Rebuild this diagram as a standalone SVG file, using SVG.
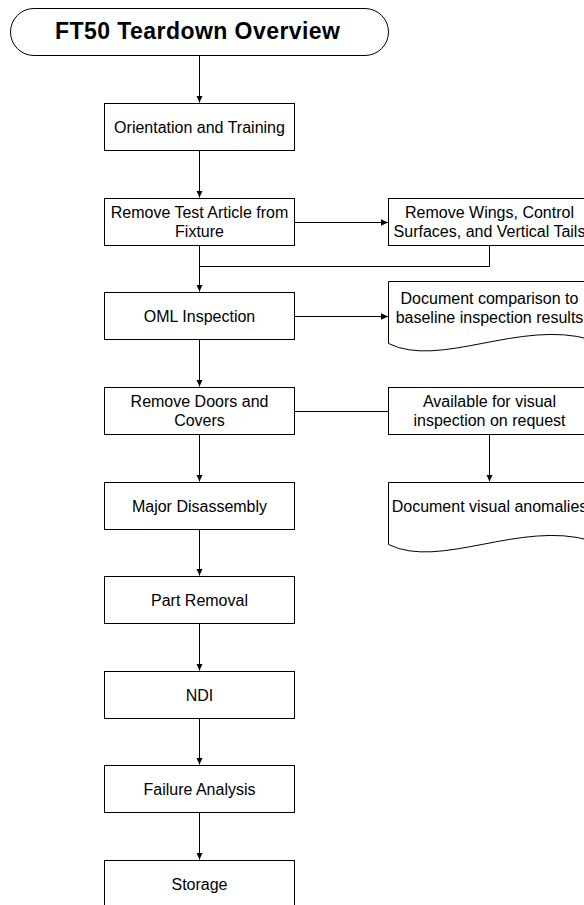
<svg xmlns="http://www.w3.org/2000/svg" width="584" height="905" viewBox="0 0 584 905">
<style>
.box{fill:#fff;stroke:#000;stroke-width:1}
.t{font-family:"Liberation Sans",Arial,sans-serif;font-size:16px;fill:#000;text-anchor:middle}
.title{font-family:"Liberation Sans",Arial,sans-serif;font-size:23px;font-weight:bold;fill:#000}
.c{fill:none;stroke:#000;stroke-width:1}
</style>
<defs>
<marker id="ah" markerWidth="8" markerHeight="8" refX="7" refY="4" orient="auto" markerUnits="userSpaceOnUse">
<path d="M0,0.8 L7,4 L0,7.2 Z" fill="#000"/>
</marker>
</defs>
<rect width="584" height="905" fill="#fff"/>
<g id="connectors">
<path class="c" d="M199.5,55.5 V102.5" marker-end="url(#ah)"/>
<path class="c" d="M199.5,150.5 V197.5" marker-end="url(#ah)"/>
<path class="c" d="M199.5,245.5 V291.5" marker-end="url(#ah)"/>
<path class="c" d="M489.5,245.5 V266.5 H199.5"/>
<path class="c" d="M294.5,222.5 H388" marker-end="url(#ah)"/>
<path class="c" d="M294.5,316.5 H388" marker-end="url(#ah)"/>
<path class="c" d="M199.5,339.5 V386.5" marker-end="url(#ah)"/>
<path class="c" d="M294.5,411.5 H388.5"/>
<path class="c" d="M199.5,434.5 V481.5" marker-end="url(#ah)"/>
<path class="c" d="M489.5,434.5 V481.5" marker-end="url(#ah)"/>
<path class="c" d="M199.5,528.5 V575.5" marker-end="url(#ah)"/>
<path class="c" d="M199.5,623.5 V670.5" marker-end="url(#ah)"/>
<path class="c" d="M199.5,718.5 V764.5" marker-end="url(#ah)"/>
<path class="c" d="M199.5,812.5 V859.5" marker-end="url(#ah)"/>
</g>
<g id="title">
<rect class="box" x="10.5" y="8.5" width="378" height="47" rx="23.5" ry="23.5"/>
<text class="title" x="55" y="38.5" textLength="285" lengthAdjust="spacing">FT50 Teardown Overview</text>
</g>
<g id="orientation">
<rect class="box" x="104.5" y="103.5" width="190" height="47"/>
<text class="t" x="199.5" y="133">Orientation and Training</text>
</g>
<g id="remove-test-article">
<rect class="box" x="104.5" y="198.5" width="190" height="47"/>
<text class="t" x="199.5" y="218">Remove Test Article from</text>
<text class="t" x="199.5" y="237">Fixture</text>
</g>
<g id="remove-wings">
<rect class="box" x="388.5" y="198.5" width="202" height="47"/>
<text class="t" x="489.5" y="218">Remove Wings, Control</text>
<text class="t" x="489.5" y="237">Surfaces, and Vertical Tails</text>
</g>
<g id="oml-inspection">
<rect class="box" x="104.5" y="292.5" width="190" height="47"/>
<text class="t" x="199.5" y="322">OML Inspection</text>
</g>
<g id="document-comparison">
<path class="box" d="M388.5,343.5 V281.5 H590.5 V339.5 C520,319 440,369 388.5,343.5 Z"/>
<text class="t" x="489.5" y="304">Document comparison to</text>
<text class="t" x="489.5" y="323">baseline inspection results</text>
</g>
<g id="remove-doors">
<rect class="box" x="104.5" y="387.5" width="190" height="47"/>
<text class="t" x="199.5" y="407">Remove Doors and</text>
<text class="t" x="199.5" y="426">Covers</text>
</g>
<g id="available-visual">
<rect class="box" x="388.5" y="387.5" width="202" height="47"/>
<text class="t" x="489.5" y="407">Available for visual</text>
<text class="t" x="489.5" y="426">inspection on request</text>
</g>
<g id="major-disassembly">
<rect class="box" x="104.5" y="482.5" width="190" height="47"/>
<text class="t" x="199.5" y="512">Major Disassembly</text>
</g>
<g id="document-anomalies">
<path class="box" d="M388.5,544.5 V482.5 H590.5 V540.5 C520,520 440,570 388.5,544.5 Z"/>
<text class="t" x="489.5" y="512">Document visual anomalies</text>
</g>
<g id="part-removal">
<rect class="box" x="104.5" y="576.5" width="190" height="47"/>
<text class="t" x="199.5" y="606">Part Removal</text>
</g>
<g id="ndi">
<rect class="box" x="104.5" y="671.5" width="190" height="47"/>
<text class="t" x="199.5" y="701">NDI</text>
</g>
<g id="failure-analysis">
<rect class="box" x="104.5" y="765.5" width="190" height="47"/>
<text class="t" x="199.5" y="795">Failure Analysis</text>
</g>
<g id="storage">
<rect class="box" x="104.5" y="860.5" width="190" height="47"/>
<text class="t" x="199.5" y="890">Storage</text>
</g>
</svg>
